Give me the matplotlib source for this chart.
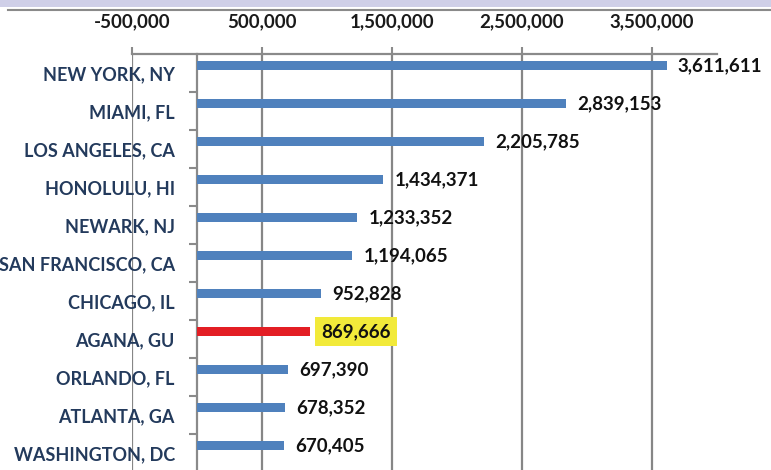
import matplotlib
matplotlib.use("Agg")
import matplotlib.pyplot as plt
from matplotlib.lines import Line2D
from matplotlib.patches import Rectangle
from matplotlib.ticker import FuncFormatter, FixedLocator
import numpy as np

cities = ["NEW YORK, NY", "MIAMI, FL", "LOS ANGELES, CA", "HONOLULU, HI",
          "NEWARK, NJ", "SAN FRANCISCO, CA", "CHICAGO, IL", "AGANA, GU",
          "ORLANDO, FL", "ATLANTA, GA", "WASHINGTON, DC"]
passengers = [3611611, 2839153, 2205785, 1434371, 1233352, 1194065,
              952828, 869666, 697390, 678352, 670405]
highlight = "AGANA, GU"
x_ticks = [-500000, 500000, 1500000, 2500000, 3500000]

plt.rcParams['font.family'] = ['Lato', 'DejaVu Sans']

fig = plt.figure(figsize=(7.71, 4.70), dpi=100)
W, H = 771, 470
ax = fig.add_axes([132 / W, 1 - 472 / H, 585 / W, 418 / H])

# move the y axis to x=0 first (this resets tick settings)
ax.spines["left"].set_position(("data", 0))

# decoration at the top of the screenshot
fig.add_artist(Rectangle((0, 1 - 7 / H), 1, 7 / H, transform=fig.transFigure,
                         facecolor="#cfcfe8", edgecolor="none"))
fig.add_artist(Line2D([8 / W, 1], [1 - 10 / H, 1 - 10 / H], transform=fig.transFigure,
                      color="#8a8a8a", lw=1.5))

n = len(cities)
pos = np.arange(n)
colors = ["#e31e24" if c == highlight else "#4f81bd" for c in cities]
ax.barh(pos - 0.2, passengers, height=0.24, color=colors, zorder=3)

for i, (c, v) in enumerate(zip(cities, passengers)):
    kw = {}
    if c == highlight:
        kw["bbox"] = dict(boxstyle="square,pad=0.32", facecolor="#f2ea3a", edgecolor="none")
    ax.annotate(f"{v:,}", (v, i - 0.2), xytext=(8, 0), textcoords="offset points",
                ha="left", va="center", fontsize=13.5, fontweight="bold",
                color="#111111", zorder=4, **kw)

ax.set_xlim(-500000, 4000000)
ax.set_ylim(n - 0.5, -0.5)

ax.xaxis.set_major_locator(FixedLocator(x_ticks))
ax.xaxis.set_major_formatter(FuncFormatter(lambda v, p: f"{int(v):,}"))
ax.xaxis.tick_top()
ax.tick_params(axis="x", direction="out", length=5, width=1.5, color="#8a8a8a",
               labelsize=13.5, pad=12, labelcolor="#1a1a1a")
for t in ax.get_xticklabels():
    t.set_fontweight("bold")
ax.grid(axis="x", color="#868686", lw=1.6, zorder=1)

ax.set_yticks(pos)
ax.set_yticklabels(cities, fontsize=13, fontweight="bold", color="#233a5c")
ax.set_yticks(pos[:-1] + 0.5, minor=True)
ax.tick_params(axis="y", which="major", length=0, pad=16)
ax.tick_params(axis="y", which="minor", length=6, width=1.5, color="#8a8a8a", direction="out")

for s in ["left", "top"]:
    ax.spines[s].set_color("#8a8a8a")
    ax.spines[s].set_linewidth(1.6)
ax.spines["right"].set_visible(False)
ax.spines["bottom"].set_visible(False)

fig.savefig("out.png", dpi=100)
